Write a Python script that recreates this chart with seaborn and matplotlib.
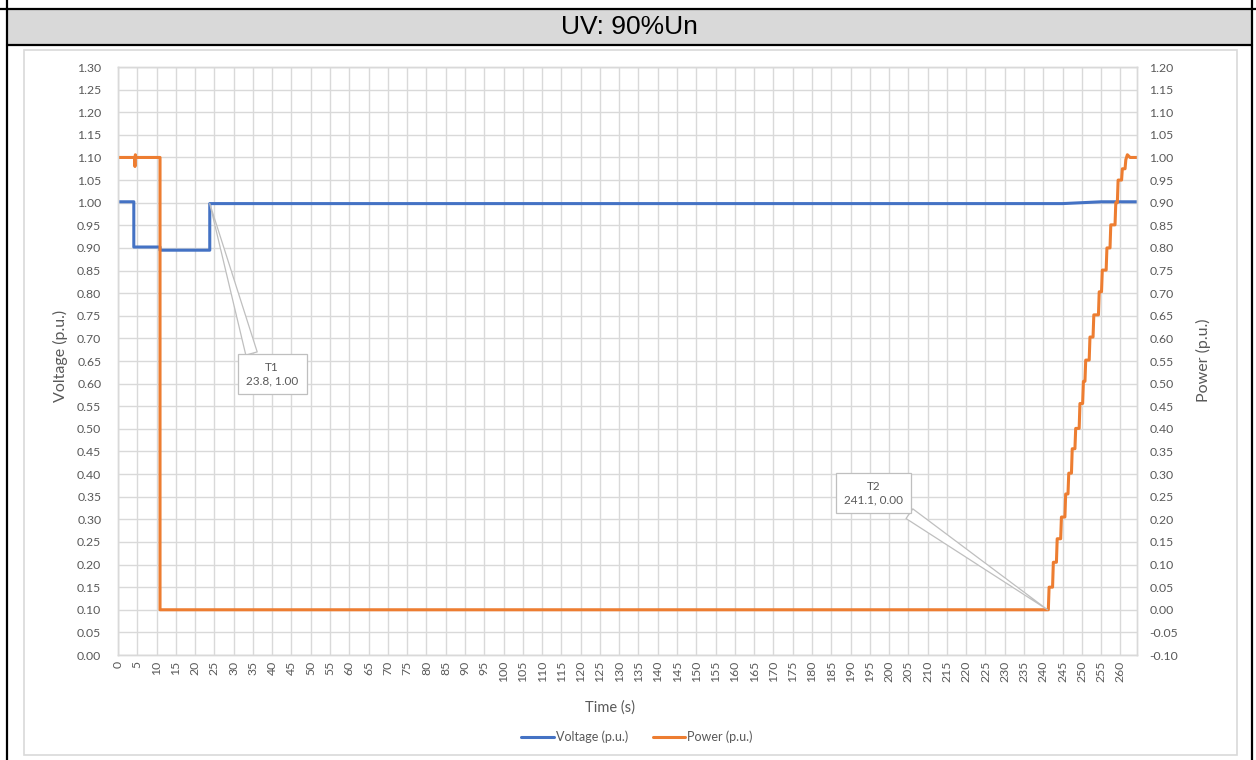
import matplotlib
matplotlib.use("Agg")
import matplotlib.pyplot as plt
import numpy as np
import pandas as pd
import seaborn as sns
from matplotlib.patches import Rectangle
from matplotlib.lines import Line2D

# values (corner points, drawn as straight segments)
volt_t = [0, 4.1, 4.1, 10.9, 10.9, 23.8, 23.8, 245, 255, 264.3]
volt_v = [1.002, 1.002, 0.902, 0.902, 0.895, 0.895, 0.998, 0.998, 1.002, 1.002]

power_t = [0, 4.3, 4.4, 4.5, 4.6, 4.7, 10.9, 10.9, 241.1,
           241.3, 241.5, 242.4, 242.6, 243.4, 243.6, 244.5, 244.7, 245.6, 245.8,
           246.4, 246.6, 247.3, 247.5, 248.2, 248.4, 249.3, 249.5, 250.2, 250.4,
           250.8, 251.0, 251.9, 252.1, 252.9, 253.1, 254.3, 254.5, 255.1, 255.3,
           256.3, 256.5, 257.3, 257.5, 258.6, 258.8, 259.2, 259.4, 260.3, 260.5,
           261.2, 261.4, 261.8, 262.5, 264.3]
power_p = [1.0, 1.0, 0.98, 1.006, 1.0, 1.0, 1.0, 0.0, 0.0,
           0.0, 0.05, 0.05, 0.105, 0.105, 0.157, 0.157, 0.205, 0.205, 0.256,
           0.256, 0.302, 0.302, 0.356, 0.356, 0.401, 0.401, 0.456, 0.456, 0.505,
           0.505, 0.552, 0.552, 0.603, 0.603, 0.652, 0.652, 0.703, 0.703, 0.751,
           0.751, 0.80, 0.80, 0.851, 0.851, 0.90, 0.90, 0.95, 0.95, 0.975,
           0.975, 0.995, 1.006, 1.0, 1.0]

x_ticks = list(range(0, 261, 5))
header = "UV: 90%Un"

volt_df = pd.DataFrame({"t": volt_t, "v": volt_v})
power_df = pd.DataFrame({"t": power_t, "p": power_p})

sns.set_theme(style="white")
plt.rcParams['font.family'] = ['Lato', 'DejaVu Sans']

grey_txt = '#595959'
grid_c = '#d9d9d9'
blue = '#4472C4'
orange = '#ED7D31'

W, H = 1256, 760
fig = plt.figure(figsize=(W / 100, H / 100), dpi=100)


def fx(px):
    return px / W


def fy(py):
    return 1 - py / H


# table frame and header cell
fig.add_artist(Rectangle((fx(7), fy(44.5)), fx(1252 - 7), (44.5 - 9) / H,
                         transform=fig.transFigure, fc='#d9d9d9', ec='none', zorder=0))
fig.add_artist(Rectangle((fx(24), fy(755)), fx(1237 - 24), (755 - 50) / H,
                         transform=fig.transFigure, fc='white', ec='#d9d9d9', lw=1.2, zorder=0))
for xs, ys in [([0, 1256], [9, 9]), ([7, 1252], [44.5, 44.5]),
               ([7, 7], [0, 760]), ([1252, 1252], [0, 760])]:
    fig.add_artist(Line2D([fx(x) for x in xs], [fy(y) for y in ys],
                          transform=fig.transFigure, color='black', lw=1.6))
fig.text(fx(629), fy(27.5), header, ha='center', va='center', fontsize=19,
         family='Liberation Sans', color='black')

ax = fig.add_axes([fx(118), fy(655), fx(1137 - 118), (655 - 67) / H])
ax.set_facecolor('none')
ax2 = ax.twinx()

sns.lineplot(data=volt_df, x="t", y="v", ax=ax, color=blue, lw=2.2,
             estimator=None, sort=False, legend=False)
sns.lineplot(data=power_df, x="t", y="p", ax=ax2, color=orange, lw=2.2,
             estimator=None, sort=False, legend=False)

ax.set_xlim(0, 264.3)
ax.set_ylim(0, 1.30)
ax2.set_ylim(-0.10, 1.20)
ax.set_xticks(x_ticks)
ax.set_xticklabels([str(t) for t in x_ticks], rotation=90)
left_ticks = np.arange(0, 1.3001, 0.05)
right_ticks = np.arange(-0.10, 1.2001, 0.05)
ax.set_yticks(left_ticks)
ax.set_yticklabels([f"{v:.2f}" for v in left_ticks])
ax2.set_yticks(right_ticks)
ax2.set_yticklabels([f"{v + 0.0:.2f}".replace("-0.00", "0.00") for v in right_ticks])

ax.grid(True, color=grid_c, lw=1.0)
ax2.grid(False)
for a in (ax, ax2):
    for s in a.spines.values():
        s.set_color(grid_c)
        s.set_linewidth(1.0)
ax.tick_params(axis='y', length=0, pad=12, labelsize=8.8, labelcolor=grey_txt)
ax.tick_params(axis='x', length=0, pad=4, labelsize=8.8, labelcolor=grey_txt)
ax2.tick_params(axis='y', length=0, pad=9, labelsize=8.8, labelcolor=grey_txt)

ax.set_xlabel("")
ax.set_ylabel("")
ax2.set_ylabel("")
fig.text(fx(610), fy(708), "Time (s)", ha='center', va='center', fontsize=10.5, color=grey_txt)
fig.text(fx(60), fy(356), "Voltage (p.u.)", ha='center', va='center', rotation=90,
         fontsize=11.5, color=grey_txt)
fig.text(fx(1203), fy(360), "Power (p.u.)", ha='center', va='center', rotation=90,
         fontsize=11.5, color=grey_txt)

# data callouts
box = dict(boxstyle='square,pad=0.7', fc='white', ec='#bfbfbf', lw=0.9)
ax.annotate("T1\n23.8, 1.00", xy=(23.8, 0.998), xytext=(40.0, 0.621), textcoords='data',
            ha='center', va='center', fontsize=8.5, color=grey_txt, bbox=box, zorder=5,
            arrowprops=dict(arrowstyle='wedge,tail_width=1.0', fc='white', ec='#bfbfbf',
                            lw=0.9, relpos=(0.15, 1.0), shrinkA=0, shrinkB=0))
ax2.annotate("T2\n241.1, 0.00", xy=(241.1, 0.0), xytext=(195.9, 0.258), textcoords='data',
             ha='center', va='center', fontsize=8.5, color=grey_txt, bbox=box, zorder=5,
             arrowprops=dict(arrowstyle='wedge,tail_width=1.0', fc='white', ec='#bfbfbf',
                             lw=0.9, relpos=(0.9, 0.0), shrinkA=0, shrinkB=0))

handles = [Line2D([], [], color=blue, lw=2.2), Line2D([], [], color=orange, lw=2.2)]
fig.legend(handles, ["Voltage (p.u.)", "Power (p.u.)"], loc='center',
           bbox_to_anchor=(fx(637), fy(737)), ncol=2, frameon=False, fontsize=9,
           handlelength=2.6, handletextpad=0.15, columnspacing=2.0, labelcolor=grey_txt)

fig.savefig("out.png", dpi=100)
